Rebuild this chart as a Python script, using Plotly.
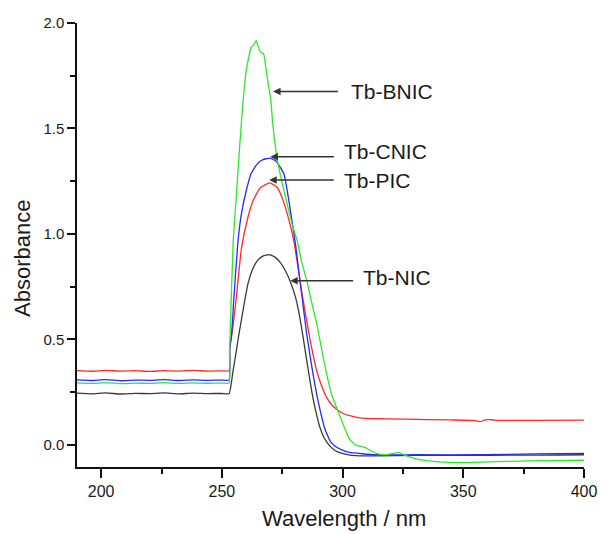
import plotly.graph_objects as go

# ---------------- data ----------------
base_wl = [190, 196, 202, 208, 214, 220, 226, 232, 238, 244, 250]

nic_wl = base_wl + [253.0, 254.5, 256.0, 257.0, 258.5, 260.8, 263.0, 265.0, 267.0, 269.6, 272.0,
                    274.4, 276.5, 278.4, 280.5, 282.2, 283.8, 285.5, 287.3, 288.8, 290.7, 292.5,
                    294.7, 297.0, 300.2, 303.0, 307.0, 315.0, 330.0, 350.0, 370.0, 390.0, 400.0]
nic_abs = [0.245, 0.242, 0.246, 0.241, 0.244, 0.243, 0.246, 0.242, 0.245, 0.243, 0.244,
           0.243, 0.34, 0.446, 0.52, 0.62, 0.763, 0.84, 0.877, 0.895, 0.902, 0.89,
           0.862, 0.822, 0.772, 0.70, 0.61, 0.50, 0.375, 0.25, 0.165, 0.08, 0.03,
           -0.005, -0.028, -0.042, -0.049, -0.052, -0.052, -0.05, -0.05, -0.049, -0.048, -0.047]

cnic_wl = base_wl + [253.0, 253.3, 254.0, 255.0, 256.7, 258.1, 260.0, 262.1, 264.5, 267.0, 269.9,
                     272.5, 275.7, 278.0, 280.5, 283.0, 285.2, 287.7, 290.0, 292.7, 295.0, 296.8,
                     300.0, 302.9, 313.7, 330.0, 357.0, 380.0, 400.0]
cnic_abs = [0.308, 0.305, 0.309, 0.304, 0.307, 0.306, 0.309, 0.305, 0.308, 0.306, 0.307,
            0.307, 0.46, 0.52, 0.70, 0.968, 1.095, 1.20, 1.285, 1.33, 1.352, 1.359,
            1.345, 1.285, 1.14, 0.952, 0.72, 0.52, 0.34, 0.20, 0.075, 0.015, -0.005,
            -0.025, -0.036, -0.047, -0.047, -0.047, -0.043, -0.041]

pic_wl = base_wl + [253.0, 253.2, 254.5, 256.0, 258.1, 260.8, 263.0, 266.0, 269.9, 273.0, 275.0,
                    277.1, 279.8, 283.0, 286.6, 289.3, 291.0, 293.4, 295.5, 297.5, 300.0, 302.9,
                    307.0, 311.0, 326.0, 345.0, 355.0, 357.0, 359.0, 362.0, 364.0, 380.0, 400.0]
pic_abs = [0.352, 0.349, 0.353, 0.350, 0.352, 0.348, 0.352, 0.350, 0.353, 0.350, 0.351,
           0.351, 0.45, 0.55, 0.70, 0.93, 1.079, 1.16, 1.22, 1.242, 1.22, 1.17,
           1.095, 0.968, 0.73, 0.494, 0.351, 0.29, 0.225, 0.19, 0.169, 0.15, 0.138,
           0.128, 0.125, 0.122, 0.118, 0.115, 0.110, 0.118, 0.119, 0.116, 0.116, 0.117]

bnic_wl = base_wl + [253.0, 253.2, 253.5, 254.7, 256.0, 257.4, 258.7, 260.1, 261.2, 262.1, 263.2,
                     264.2, 265.0, 266.0, 267.3, 268.2, 269.0, 270.3, 271.0, 272.0, 273.0, 275.0,
                     277.1, 279.0, 281.2, 283.0, 285.2, 287.2, 289.3, 291.3, 293.4, 295.4, 297.5,
                     300.2, 302.9, 305.6, 308.0, 309.5, 311.7, 315.1, 319.0, 321.0, 323.2, 325.0,
                     330.0, 335.5, 349.0, 376.0, 400.0]
bnic_abs = [0.294, 0.291, 0.295, 0.290, 0.293, 0.291, 0.295, 0.291, 0.294, 0.292, 0.293,
            0.293, 0.45, 0.55, 0.968, 1.18, 1.42, 1.617, 1.775, 1.84, 1.886, 1.895,
            1.917, 1.89, 1.862, 1.854, 1.79, 1.727, 1.633, 1.53, 1.43, 1.35, 1.24,
            1.14, 1.05, 0.968, 0.87, 0.778, 0.675, 0.573, 0.455, 0.336, 0.241, 0.177,
            0.098, 0.027, -0.002, -0.008, -0.013, -0.028, -0.044, -0.045, -0.04, -0.037, -0.045,
            -0.065, -0.076, -0.084, -0.076, -0.073]

x_ticks = [200, 250, 300, 350, 400]
y_ticks = [0.0, 0.5, 1.0, 1.5, 2.0]

labels = ["Tb-BNIC", "Tb-CNIC", "Tb-PIC", "Tb-NIC"]
label_x = [302.6, 299.9, 299.9, 307.5]
label_y = [1.674, 1.392, 1.252, 0.794]
arrow_tip_x = [271.2, 270.1, 269.6, 278.3]
arrow_tail_x = [298.7, 297.0, 297.0, 305.0]
arrow_y = [1.675, 1.366, 1.256, 0.778]

# ---------------- figure ----------------
fig = go.Figure()
series = [
    (nic_wl, nic_abs, "#3a3a3a"),
    (pic_wl, pic_abs, "#ff2a2a"),
    (cnic_wl, cnic_abs, "#2a2aff"),
    (bnic_wl, bnic_abs, "#2ee82e"),
]
for xs, ys, col in series:
    fig.add_trace(go.Scatter(x=xs, y=ys, mode="lines",
                             line=dict(color=col, width=1.3, shape="spline", smoothing=0.4),
                             showlegend=False, hoverinfo="skip"))

font_family = "Liberation Sans, Arial, sans-serif"
annotations = []
for t, lx, ly, tx, tl, ay in zip(labels, label_x, label_y, arrow_tip_x, arrow_tail_x, arrow_y):
    annotations.append(dict(x=tx, y=ay, ax=tl, ay=ay, xref="x", yref="y", axref="x", ayref="y",
                            text="", showarrow=True, arrowhead=2, arrowsize=1,
                            arrowwidth=1.5, arrowcolor="#333333"))
    annotations.append(dict(x=lx, y=ly, xref="x", yref="y", text=t, showarrow=False,
                            xanchor="left", yanchor="middle",
                            font=dict(family=font_family, size=21, color="#1a1a1a")))

annotations.append(dict(x=-0.1087, y=0.4707, xref="paper", yref="paper", text="Absorbance",
                        textangle=-90, showarrow=False, xanchor="center", yanchor="middle",
                        font=dict(family=font_family, size=22, color="#1a1a1a")))
annotations.append(dict(x=0.526, y=-0.117, xref="paper", yref="paper", text="Wavelength / nm",
                        showarrow=False, xanchor="center", yanchor="middle",
                        font=dict(family=font_family, size=22, color="#1a1a1a")))

fig.update_layout(
    width=609, height=534,
    margin=dict(l=77, r=17, t=23, b=67),
    paper_bgcolor="white", plot_bgcolor="white",
    font=dict(family=font_family, color="#1a1a1a"),
    annotations=annotations,
    xaxis=dict(range=[190, 400], tickvals=x_ticks, ticktext=[str(v) for v in x_ticks],
               showline=True, linecolor="#111111", linewidth=1.5,
               ticks="outside", ticklen=9, tickwidth=1.5, tickcolor="#111111",
               minor=dict(tickvals=[225, 275, 325, 375], ticks="outside", ticklen=5,
                          tickwidth=1.5, tickcolor="#111111"),
               showgrid=False, zeroline=False, tickfont=dict(size=16, family=font_family)),
    yaxis=dict(range=[-0.105, 2.0], tickvals=y_ticks, ticktext=[f"{v:.1f}" for v in y_ticks],
               showline=True, linecolor="#111111", linewidth=1.5,
               ticks="outside", ticklen=8, tickwidth=1.5, tickcolor="#111111",
               minor=dict(tickvals=[0.25, 0.75, 1.25, 1.75], ticks="outside", ticklen=5,
                          tickwidth=1.5, tickcolor="#111111"),
               showgrid=False, zeroline=False, tickfont=dict(size=15, family=font_family)),
)

fig.write_html("out.html")
